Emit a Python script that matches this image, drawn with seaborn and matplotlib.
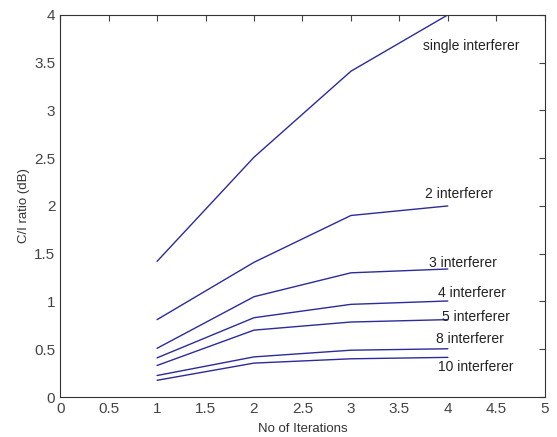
import matplotlib
matplotlib.use("Agg")
import matplotlib.pyplot as plt
import seaborn as sns
import pandas as pd

iterations = [1, 2, 3, 4]
single = [1.42, 2.51, 3.41, 4.0]
two = [0.81, 1.41, 1.90, 2.0]
three = [0.51, 1.05, 1.30, 1.34]
four = [0.41, 0.83, 0.97, 1.005]
five = [0.33, 0.70, 0.785, 0.81]
eight = [0.225, 0.42, 0.49, 0.505]
ten = [0.175, 0.355, 0.40, 0.415]

series_names = ["single interferer", "2 interferer", "3 interferer", "4 interferer",
                "5 interferer", "8 interferer", "10 interferer"]
series_values = [single, two, three, four, five, eight, ten]
label_x = [3.74, 3.76, 3.81, 3.90, 3.94, 3.88, 3.90]
label_y = [3.67, 2.12, 1.40, 1.09, 0.84, 0.61, 0.31]

rows = []
for name, vals in zip(series_names, series_values):
    for x, y in zip(iterations, vals):
        rows.append({"iter": x, "ratio": y, "series": name})
df = pd.DataFrame(rows)

sns.set_style("white")
plt.rcParams["font.family"] = ["Liberation Sans", "DejaVu Sans"]
fig = plt.figure(figsize=(5.57, 4.37), dpi=100)
ax = fig.add_axes([0.108, 0.0915, 0.870, 0.8745])
color = "#2b2b9c"
sns.lineplot(data=df, x="iter", y="ratio", hue="series", palette=[color] * 7,
             legend=False, ax=ax, linewidth=1.0, sort=True)

for name, lx, ly in zip(series_names, label_x, label_y):
    ax.text(lx, ly, name, fontsize=10, color="#222222", ha="left", va="center")

ax.set_xlim(0, 5)
ax.set_ylim(0, 4)
ax.set_xticks([0, 0.5, 1, 1.5, 2, 2.5, 3, 3.5, 4, 4.5, 5])
ax.set_xticklabels(["0", "0.5", "1", "1.5", "2", "2.5", "3", "3.5", "4", "4.5", "5"])
ax.set_yticks([0, 0.5, 1, 1.5, 2, 2.5, 3, 3.5, 4])
ax.set_yticklabels(["0", "0.5", "1", "1.5", "2", "2.5", "3", "3.5", "4"])
ax.tick_params(direction="in", top=True, right=True, length=4, labelsize=11,
               colors="#444444", width=0.8)
for s in ax.spines.values():
    s.set_visible(True)
    s.set_color("#333333")
    s.set_linewidth(0.8)
ax.set_xlabel("No of Iterations", fontsize=9.5, color="#333333", labelpad=5)
ax.set_ylabel("C/I ratio (dB)", fontsize=9.5, color="#333333", labelpad=3)

fig.savefig("out.png", dpi=100)
